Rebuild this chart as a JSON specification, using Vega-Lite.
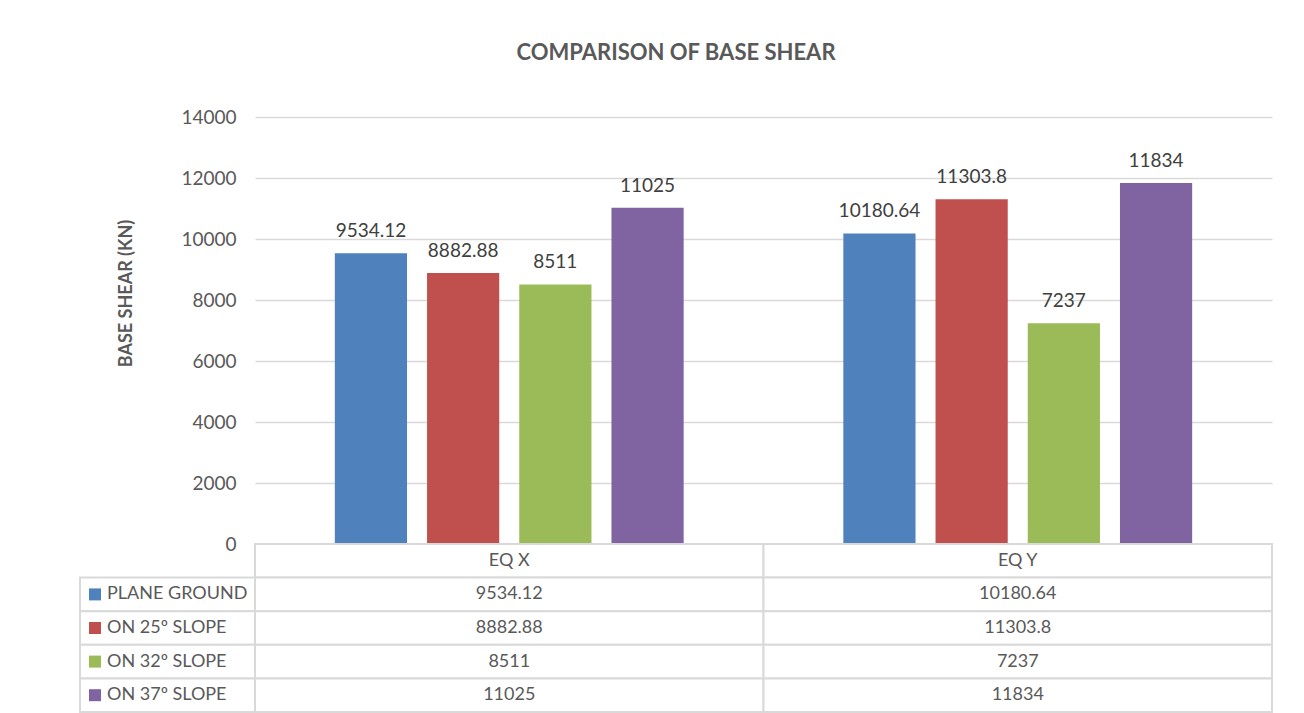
{
  "$schema": "https://vega.github.io/schema/vega-lite/v6.json",
  "padding": {"left": 79, "top": 42, "right": 5, "bottom": 0},
  "background": "white",
  "title": {"text": "COMPARISON OF BASE SHEAR", "font": "Lato", "fontSize": 22, "fontWeight": "bold", "color": "#595959", "anchor": "middle", "offset": 43},
  "config": {"view": {"stroke": null}, "font": "Lato"},
  "datasets": {
    "bars": [
      {"group": "EQ X", "series": "PLANE GROUND", "value": 9534.12},
      {"group": "EQ X", "series": "ON 25º SLOPE", "value": 8882.88},
      {"group": "EQ X", "series": "ON 32º SLOPE", "value": 8511},
      {"group": "EQ X", "series": "ON 37º SLOPE", "value": 11025},
      {"group": "EQ Y", "series": "PLANE GROUND", "value": 10180.64},
      {"group": "EQ Y", "series": "ON 25º SLOPE", "value": 11303.8},
      {"group": "EQ Y", "series": "ON 32º SLOPE", "value": 7237},
      {"group": "EQ Y", "series": "ON 37º SLOPE", "value": 11834}
    ],
    "header": [
      {"group": "EQ X", "row": "header"},
      {"group": "EQ Y", "row": "header"}
    ]
  },
  "columns": 2,
  "spacing": 0,
  "bounds": "flush",
  "resolve": {"scale": {"x": "independent", "y": "independent"}},
  "concat": [
    {
      "width": 175,
      "height": 427,
      "data": {"values": []},
      "mark": "text",
      "encoding": {}
    },
    {
      "width": 1017,
      "height": 427,
      "data": {"name": "bars"},
      "encoding": {
        "x": {"field": "group", "type": "nominal", "axis": null, "scale": {"domain": ["EQ X", "EQ Y"], "paddingInner": 0.314, "paddingOuter": 0.157}},
        "xOffset": {"field": "series", "type": "nominal", "scale": {"domain": ["PLANE GROUND", "ON 25º SLOPE", "ON 32º SLOPE", "ON 37º SLOPE"], "paddingInner": 0.217, "paddingOuter": 0}},
        "y": {"field": "value", "type": "quantitative", "scale": {"domain": [0, 14000], "nice": false},
          "axis": {"values": [0, 2000, 4000, 6000, 8000, 10000, 12000, 14000], "format": "d", "domain": false, "ticks": false, "labelPadding": 19, "labelFontSize": 19, "labelColor": "#595959", "gridColor": "#d9d9d9", "gridWidth": 1.3, "title": "BASE SHEAR (KN)", "titleFontSize": 18, "titleFontWeight": "bold", "titleColor": "#595959", "titlePadding": 45, "titleY": 176}}
      },
      "layer": [
        {
          "mark": {"type": "bar"},
          "encoding": {
            "color": {"field": "series", "type": "nominal", "legend": null, "scale": {"domain": ["PLANE GROUND", "ON 25º SLOPE", "ON 32º SLOPE", "ON 37º SLOPE"], "range": ["#4f81bd", "#c0504d", "#9bbb59", "#8064a2"]}}
          }
        },
        {
          "mark": {"type": "text", "baseline": "bottom", "dy": -12, "fontSize": 19, "color": "#404040"},
          "encoding": {"text": {"field": "value", "type": "nominal"}}
        }
      ]
    },
    {
      "width": 175,
      "height": 168,
      "data": {"name": "bars"},
      "transform": [{"filter": "datum.group === 'EQ X'"}],
      "encoding": {
        "y": {"field": "series", "type": "nominal", "axis": null, "scale": {"domain": ["header", "PLANE GROUND", "ON 25º SLOPE", "ON 32º SLOPE", "ON 37º SLOPE"], "paddingInner": 0, "paddingOuter": 0}}
      },
      "layer": [
        {
          "mark": {"type": "rect", "fill": "white", "stroke": "#d9d9d9", "strokeWidth": 2},
          "encoding": {"x": {"datum": "legend", "type": "nominal", "axis": null, "scale": {"paddingInner": 0, "paddingOuter": 0}}}
        },
        {
          "mark": {"type": "point", "shape": "square", "filled": true, "size": 144, "opacity": 1, "xOffset": 15},
          "encoding": {
            "x": {"datum": "legend", "type": "nominal", "bandPosition": 0},
            "color": {"field": "series", "type": "nominal", "legend": null, "scale": {"domain": ["PLANE GROUND", "ON 25º SLOPE", "ON 32º SLOPE", "ON 37º SLOPE"], "range": ["#4f81bd", "#c0504d", "#9bbb59", "#8064a2"]}}
          }
        },
        {
          "mark": {"type": "text", "align": "left", "dx": 27, "fontSize": 18, "color": "#595959"},
          "encoding": {
            "x": {"datum": "legend", "type": "nominal", "bandPosition": 0},
            "text": {"field": "series", "type": "nominal"}
          }
        }
      ]
    },
    {
      "width": 1017,
      "height": 168,
      "encoding": {
        "x": {"field": "group", "type": "nominal", "axis": null, "scale": {"domain": ["EQ X", "EQ Y"], "paddingInner": 0, "paddingOuter": 0}}
      },
      "layer": [
        {
          "data": {"name": "header"},
          "mark": {"type": "rect", "fill": "white", "stroke": "#d9d9d9", "strokeWidth": 2},
          "encoding": {"y": {"field": "row", "type": "nominal", "axis": null, "scale": {"domain": ["header", "PLANE GROUND", "ON 25º SLOPE", "ON 32º SLOPE", "ON 37º SLOPE"], "paddingInner": 0, "paddingOuter": 0}}}
        },
        {
          "data": {"name": "header"},
          "mark": {"type": "text", "fontSize": 18, "color": "#595959"},
          "encoding": {"y": {"field": "row", "type": "nominal"}, "text": {"field": "group", "type": "nominal"}}
        },
        {
          "data": {"name": "bars"},
          "mark": {"type": "rect", "fill": "white", "stroke": "#d9d9d9", "strokeWidth": 2},
          "encoding": {"y": {"field": "series", "type": "nominal"}}
        },
        {
          "data": {"name": "bars"},
          "mark": {"type": "text", "fontSize": 18, "color": "#595959"},
          "encoding": {"y": {"field": "series", "type": "nominal"}, "text": {"field": "value", "type": "nominal"}}
        }
      ]
    }
  ]
}
